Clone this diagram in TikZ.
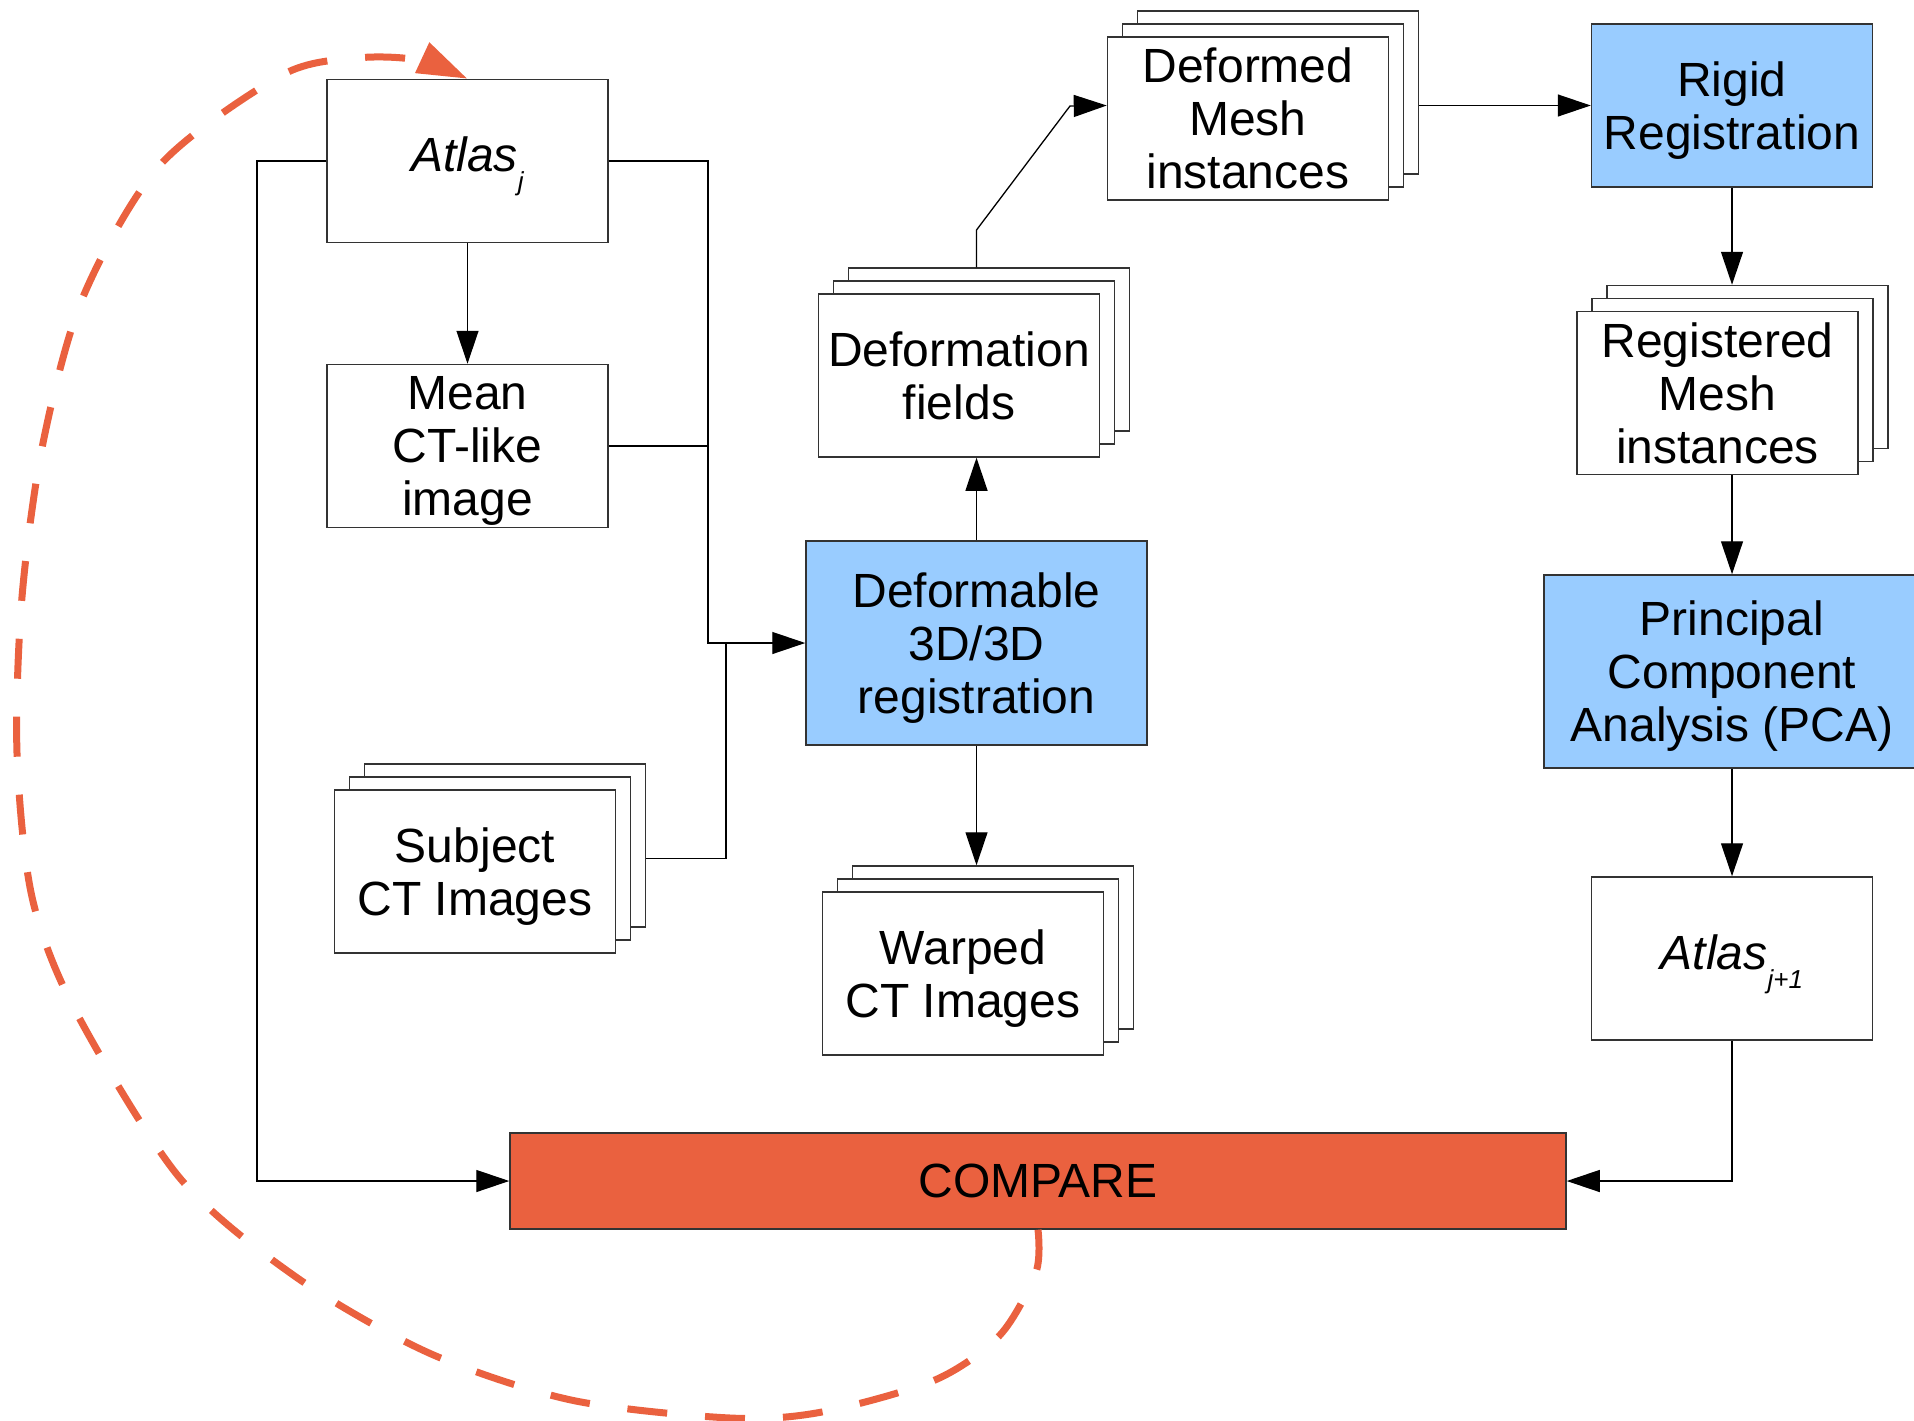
\documentclass[tikz,border=0pt]{standalone}
\usepackage{fontspec}
\setmainfont{Liberation Sans}
\usetikzlibrary{arrows.meta}
\definecolor{boxblue}{RGB}{153,204,255}
\definecolor{cmporange}{RGB}{234,97,63}
\definecolor{edgegray}{RGB}{51,51,51}
% last line without descender depth (centre on the letters, as the reference does)
\newcommand{\nodepth}[1]{\raisebox{0pt}[\height][0pt]{#1}}
\newcommand{\atlassub}[1]{{\fontsize{48}{53}\selectfont\itshape Atlas\raisebox{-19pt}[0pt][13pt]{\fontsize{26}{26}\selectfont #1}}}
\begin{document}
\begin{tikzpicture}[x=1pt,y=-1pt,
  txt/.style={font=\fontsize{48}{53}\selectfont, align=center, text=black},
  box/.style={txt, draw=edgegray, line width=1.5pt, fill=white, inner sep=0pt,
              minimum width=281pt, minimum height=163pt},
  bluebox/.style={box, fill=boxblue},
  link/.style={draw=black, line width=1.3pt},
  conn/.style={link, -{Triangle[length=33pt,width=22pt]}},
  loopback/.style={draw=cmporange, line width=7pt, dash pattern=on 40pt off 38pt,
                   -{Triangle[length=50pt,width=32pt]}}
]
\path[use as bounding box] (0,0) rectangle (1914,1421);
\clip (0,0) rectangle (1914,1421);

% Atlas j
\node[box] (atlasj) at (467.5,161) {\atlassub{j}};
% Mean CT-like image
\node[box] (mean) at (467.5,446) {Mean\\CT-like\\\nodepth{image}};
% Subject CT images (stack)
\node[box] (subB) at (505,845.5) {};
\node[box] (subM) at (490,858.5) {};
\node[box] (sub)  at (475,871.5) {Subject\\\nodepth{CT Images}};
% Deformable registration
\node[bluebox, minimum width=341pt, minimum height=204pt] (def) at (976.5,643)
  {Deformable\\3D/3D\\\nodepth{registration}};
% Deformation fields (stack)
\node[box] (fldB) at (989,349.5) {};
\node[box] (fldM) at (974,362.5) {};
\node[box] (fld)  at (959,375.5) {Deformation\\fields};
% Warped CT images (stack)
\node[box] (wrpB) at (993,947.5) {};
\node[box] (wrpM) at (978,960.5) {};
\node[box] (wrp)  at (963,973.5) {Warped\\\nodepth{CT Images}};
% Deformed mesh instances (stack)
\node[box] (dmB) at (1278,92.5) {};
\node[box] (dmM) at (1263,105.5) {};
\node[box] (dm)  at (1248,118.5) {Deformed\\Mesh\\instances};
% Rigid registration
\node[bluebox] (rigid) at (1732,105.5) {Rigid\\\nodepth{Registration}};
% Registered mesh instances (stack)
\node[box] (regB) at (1747.5,367) {};
\node[box] (regM) at (1732.5,380) {};
\node[box] (reg)  at (1717.5,393) {Registered\\Mesh\\instances};
% PCA
\node[bluebox, minimum width=376pt, minimum height=193pt] (pca) at (1732,671.5)
  {Principal\\Component\\\nodepth{Analysis (PCA)}};
% Atlas j+1
\node[box] (atlasn) at (1732,958.5) {\atlassub{j+1}};
% Compare
\node[box, fill=cmporange, minimum width=1056pt, minimum height=96pt] (cmp)
  at (1038,1181) {COMPARE};

% helper coordinates
\coordinate (busL) at (257,0);
\coordinate (busA) at (708,0);
\coordinate (busB) at (726,0);
\coordinate (bendA) at (976.5,230);
\coordinate (bendB) at (1070,106);

% connectors
\draw[conn] (atlasj.west) -| (busL |- cmp.west) -- (cmp.west);
\draw[conn] (atlasj.east) -| (busA |- def.west) -- (def.west);
\draw[link] (mean.east) -- (busA |- mean.east);
\draw[link] (subB.east |- subM.east) -| (busB |- def.west);
\draw[conn] (atlasj.south) -- (mean.north);
\draw[conn] (def.north) -- (def.north |- fld.south);
\draw[conn] (def.south) -- (def.south |- wrpB.north);
\draw[conn] (def.north |- fldB.north) -- (bendA) -- (bendB) -- (dm.west |- dmM.west);
\draw[conn] (dmB.east |- rigid.west) -- (rigid.west);
\draw[conn] (rigid.south) -- (rigid.south |- regB.north);
\draw[conn] (rigid.south |- reg.south) -- (pca.north);
\draw[conn] (pca.south) -- (atlasn.north);
\draw[conn] (atlasn.south) |- (cmp.east);

% dashed feedback loop
\draw[loopback] plot[smooth, tension=0.5] coordinates {(cmp.south) (1036,1272) (1000,1335)
  (935,1380) (822,1412) (730,1418) (571,1400) (429,1353) (296,1277) (179,1177)
  (75,1010) (32,897) (17,753) (22,597) (43,443) (83,297) (160,165) (282,75)
  (357,58) (418,60) (atlasj.north)};
\end{tikzpicture}
\end{document}
